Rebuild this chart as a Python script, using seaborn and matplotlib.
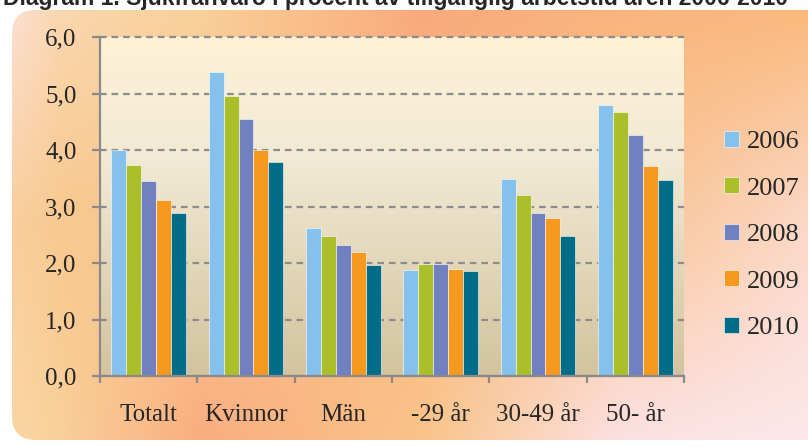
import numpy as np
import pandas as pd
import matplotlib
matplotlib.use('Agg')
import matplotlib.pyplot as plt
import seaborn as sns
from matplotlib.colors import to_rgb
from matplotlib.patches import FancyBboxPatch
from matplotlib.ticker import FixedLocator

# Data
categories = ['Totalt', 'Kvinnor', 'Män', '-29 år', '30-49 år', '50- år']
years = ['2006', '2007', '2008', '2009', '2010']
v2006 = [4.00, 5.38, 2.62, 1.87, 3.49, 4.80]
v2007 = [3.74, 4.96, 2.48, 1.98, 3.20, 4.67]
v2008 = [3.45, 4.54, 2.31, 1.99, 2.89, 4.27]
v2009 = [3.12, 4.00, 2.19, 1.90, 2.80, 3.72]
v2010 = [2.88, 3.78, 1.96, 1.85, 2.48, 3.47]
yticks = [0, 1, 2, 3, 4, 5, 6]
title = 'Diagram 1. Sjukfrånvaro i procent av tillgänglig arbetstid åren 2006-2010'

colors = ['#85C1EA', '#AABF2A', '#7181C0', '#F7991F', '#006D88']

rows = []
for year, vals in zip(years, [v2006, v2007, v2008, v2009, v2010]):
    for cat, v in zip(categories, vals):
        rows.append({'grupp': cat, 'år': year, 'värde': v})
df = pd.DataFrame(rows)

sns.set_style('white')
plt.rcParams['font.family'] = ['Liberation Serif', 'DejaVu Serif']

W, H = 808, 447
fig = plt.figure(figsize=(W / 100, H / 100), dpi=100)
fig.patch.set_facecolor('white')

# orange gradient backdrop with rounded corners
def grad2d(xs, ys, grid, w, h):
    grid = np.array([[to_rgb(c) for c in row] for row in grid])
    X = np.arange(w)
    Y = np.arange(h)
    tmp = np.stack([np.stack([np.interp(X, xs, grid[r, :, k]) for k in range(3)], -1)
                    for r in range(len(ys))])
    out = np.stack([np.stack([np.interp(Y, ys, tmp[:, i, k]) for k in range(3)], -1)
                    for i in range(w)], 1)
    return out

bg_img = grad2d([0, 60, 200, 420, 620, 808], [0, 220, 447],
                [['#FCE2DE', '#FAD8B0', '#FAD09A', '#F9A97C', '#F9B47C', '#FAB878'],
                 ['#F9D0A0', '#F9C890', '#F9C490', '#F9B888', '#F9C490', '#FBD8C8'],
                 ['#F9D8A8', '#F9D09A', '#F9AC80', '#F9C488', '#FCE2E6', '#FDE8EC']], W, H)
bg = fig.add_axes([0, 0, 1, 1], zorder=-1)
bg.set_xlim(0, W)
bg.set_ylim(H, 0)
bg.axis('off')
im = bg.imshow(bg_img, extent=[0, W, H, 0], aspect='auto')
clip = FancyBboxPatch((12, 10), 830, 430, boxstyle='round,pad=0,rounding_size=24',
                      transform=bg.transData, facecolor='none', edgecolor='none')
bg.add_patch(clip)
im.set_clip_path(clip)

# title is cut off at the top edge in the original
fig.text(3 / W, 1 - 5 / H, title, family='Liberation Sans', fontweight='bold',
         fontsize=16.5, va='baseline', ha='left')

ax = fig.add_axes([100 / W, 1 - 376 / H, 584 / W, 339 / H])
ax.set_facecolor('none')
plot_grad = grad2d([0, 1], [0, 120, 339],
                   [['#FEF1D6', '#FEF1D6'], ['#F2EAD5', '#F2EAD5'], ['#D3C39E', '#D3C39E']], 2, 339)
ax.imshow(plot_grad, extent=[0, 1, 0, 1], transform=ax.transAxes, aspect='auto', zorder=0)

sns.barplot(data=df, x='grupp', y='värde', hue='år', palette=colors, width=0.77,
            saturation=1, edgecolor='#FFFFFF', linewidth=0.4, ax=ax, zorder=2)

ax.set_xlim(-0.5, len(categories) - 0.5)
ax.set_ylim(0, 6)
ax.set_yticks(yticks)
ax.set_yticklabels([f'{t:.1f}'.replace('.', ',') for t in yticks])
ax.set_xlabel('')
ax.set_ylabel('')

ax.set_axisbelow(True)
ax.yaxis.grid(True, linestyle=(0, (3, 2.2)), color='#8C8C8C', linewidth=1.6)
for gl in ax.get_ygridlines():
    gl.set_clip_on(False)
ax.xaxis.grid(False)

for s in ['top', 'right']:
    ax.spines[s].set_visible(False)
for s in ['left', 'bottom']:
    ax.spines[s].set_color('#8A8A8A')
    ax.spines[s].set_linewidth(1.6)

ax.tick_params(axis='y', which='major', left=True, length=6, width=1.6, color='#8A8A8A',
               pad=11, labelsize=18)
ax.xaxis.set_minor_locator(FixedLocator(np.arange(-0.5, len(categories), 1.0)))
ax.tick_params(axis='x', which='major', bottom=False, length=0, pad=20, labelsize=18)
ax.tick_params(axis='x', which='minor', bottom=True, length=5, width=1.6, color='#8A8A8A')

ax.legend(loc='center left', bbox_to_anchor=(724 / W, 1 - 235 / H),
          bbox_transform=fig.transFigure, frameon=False, fontsize=19,
          borderpad=0, borderaxespad=0,
          handlelength=0.55, handleheight=0.55, handletextpad=0.3, labelspacing=0.92)

fig.savefig('out.png', dpi=100)
